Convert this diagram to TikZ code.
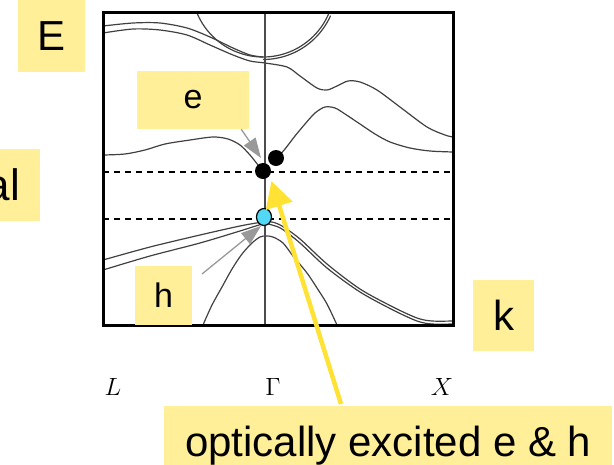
\documentclass[tikz,border=0pt]{standalone}
\usepackage{fontspec}
\setmainfont{Liberation Sans}
\usetikzlibrary{arrows.meta,shapes.geometric}
\definecolor{lblyel}{RGB}{255,239,153}
\definecolor{exyel}{RGB}{255,226,51}
\definecolor{holecyan}{RGB}{80,216,245}

\begin{document}
\begin{tikzpicture}[x=1pt,y=-1pt,
    band/.style={line width=1.2pt,black!75},
    lblbox/.style={fill=lblyel,inner sep=0pt,font=\fontsize{42}{48}\selectfont},
    smallbox/.style={lblbox,font=\fontsize{34}{40}\selectfont},
    kpt/.style={font=\fontsize{12}{14}\selectfont,scale=2.08,inner sep=0pt,anchor=base},
    level/.style={line width=1.4pt,dash pattern=on 6pt off 5pt},
    pointer/.style={line width=1.3pt,black!40,-{Triangle[length=20pt,width=14pt]}},
    carrier/.style={circle,fill=black,inner sep=0pt,minimum size=16pt}]
  \useasboundingbox (0,0) rectangle (614,464);
  % band structure panel
  \begin{scope}
    \draw[level] (103,172) -- (453,172);
    \draw[level] (103,219) -- (453,219);
    % upper conduction bands
    \draw[band] plot[smooth] coordinates {(103,26) (133,23) (160,23) (187,28) (210,37) (233,48) (250,55) (263,57)};
    \draw[band] plot[smooth] coordinates {(103,33) (133,29) (160,30) (187,35) (210,45) (233,55) (250,61) (265,63)
      (287,67) (300,76) (317,88) (327,90) (337,86) (348,81) (360,82) (377,90) (400,107) (427,127) (445,135) (453,137)};
    \draw[band,domain=-67:0,samples=40] plot ({263+71.5*sin(\x)},{-14.5+71.5*cos(\x)});
    \draw[band,domain=0:67,samples=40] plot ({263+71.5*sin(\x)},{-14.5+71.5*cos(\x)});
    \draw[band,domain=0:66,samples=40] plot ({263+74*sin(\x)},{-14.5+74*cos(\x)});
    % lowest conduction band
    \draw[band] plot[smooth] coordinates {(103,155) (125,154) (145,150) (165,144) (190,140) (213,137) (228,139)
      (240,145) (250,155) (258,165) (263,171)};
    \draw[band] plot[smooth] coordinates {(277,158) (285,149) (295,136) (305,124) (315,113) (325,107) (335,108)
      (345,114) (360,124) (375,134) (390,142) (410,148) (430,151) (453,152)};
    % valence bands
    \draw[band] plot[smooth] coordinates {(103,260) (150,247) (200,235) (240,226) (263,222)
      (272,222) (282,226) (300,239) (327,264) (360,289) (393,307) (417,318) (432,321) (453,321)};
    \draw[band] plot[smooth] coordinates {(103,270) (150,256) (200,243) (240,231) (263,224)
      (272,225) (282,229) (300,243) (327,268) (360,292) (393,310) (417,321) (432,324) (453,324)};
    \draw[band] plot[smooth] coordinates {(203,325) (212,305) (222,287) (232,269) (242,254) (252,243) (260,237)
      (266,236) (273,237) (283,243) (293,256) (307,273) (317,288) (327,304) (337,325)};
    \draw[line width=1.3pt,black!70] (265,12) -- (265,325);
    \draw[line width=3pt] (103,12) rectangle (453,325);
  \end{scope}
  % k points
  \node[kpt] (ptL) at (113,395) {$L$};
  \node[kpt] (ptG) at (273,395) {$\Gamma$};
  \node[kpt] (ptX) at (442,395) {$X$};
  % carriers
  \node[carrier] (eA) at (263,171) {};
  \node[carrier] (eB) at (276,158) {};
  \node[ellipse,draw,line width=1.2pt,fill=holecyan,inner sep=0pt,minimum width=15pt,minimum height=17pt] (hA) at (264,217) {};
  % labels
  \node[lblbox,minimum width=67pt,minimum height=72pt] (lblE) at (51.5,36) {E};
  \node[smallbox,minimum width=112pt,minimum height=58pt] (lblElec) at (193,100) {e};
  \node[lblbox,minimum width=80pt,minimum height=72pt] (boxOpt) at (0,185) {};
  \node[anchor=east,inner sep=0pt,font=\fontsize{44}{50}\selectfont] (lblOpt) at (20,185) {al};
  \node[smallbox,minimum width=57pt,minimum height=59pt] (lblHole) at (163.5,295.5) {h};
  \node[lblbox,minimum width=61pt,minimum height=71pt] (lblK) at (503.5,315.5) {k};
  \node[lblbox,anchor=base west,inner xsep=21pt,inner ysep=20pt] (lblExc) at (164,456) {optically excited e \& h};
  % pointers
  \coordinate (eTip) at (261,158);
  \coordinate (hTail) at (202,274);
  \coordinate (hTip) at (261,226);
  \coordinate (exTail) at (341,404);
  \coordinate (exTip) at (271.5,181);
  \draw[pointer] ([xshift=-8pt]lblElec.south east) -- (eTip);
  \draw[pointer] (hTail) -- (hTip);
  \draw[line width=4.5pt,exyel,-{Triangle[length=26pt,width=27pt]}] (exTail) -- (exTip);
\end{tikzpicture}
\end{document}
